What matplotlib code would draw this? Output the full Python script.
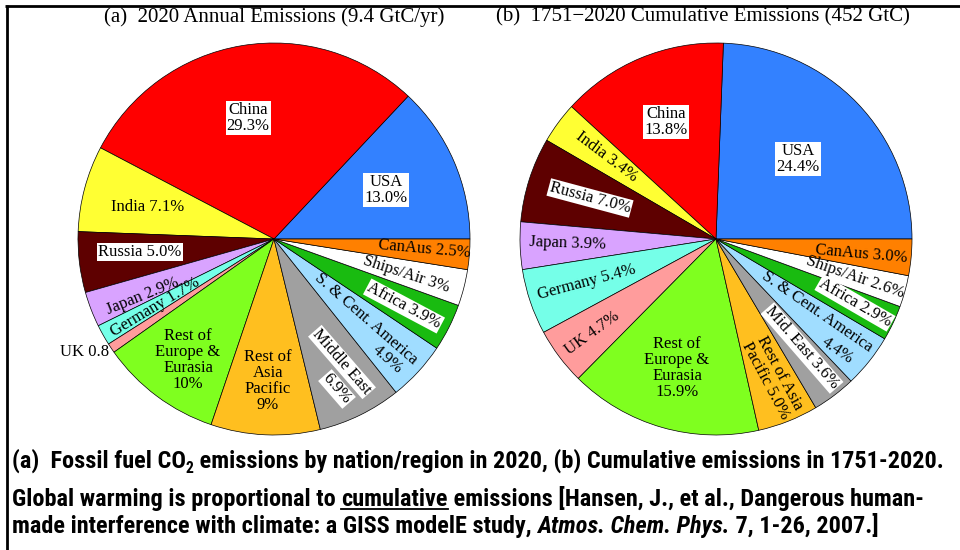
import matplotlib
matplotlib.use("Agg")
import matplotlib.pyplot as plt
from matplotlib import font_manager

# ---------------- data ----------------
regions_a = ["USA", "China", "India", "Russia", "Japan", "Germany", "UK",
             "Rest of Europe & Eurasia", "Rest of Asia Pacific", "Middle East",
             "S. & Cent. America", "Africa", "Ships/Air", "CanAus"]
share_2020 = [13.0, 29.3, 7.1, 5.0, 2.9, 1.7, 0.8, 10.0, 9.0, 6.9, 4.9, 3.9, 3.0, 2.5]

regions_b = ["USA", "China", "India", "Russia", "Japan", "Germany", "UK",
             "Rest of Europe & Eurasia", "Rest of Asia Pacific", "Middle East",
             "S. & Cent. America", "Africa", "Ships/Air", "CanAus"]
share_cum = [24.4, 13.8, 3.4, 7.0, 3.9, 5.4, 4.7, 15.9, 5.0, 3.6, 4.4, 2.9, 2.6, 3.0]

colors = ["#3381FF", "#FF0000", "#FFFF33", "#5E0000", "#D9A3FF", "#75FFE8",
          "#FF9C9C", "#7FFF1F", "#FFBF1F", "#A0A0A0", "#A0DDFF", "#19BB10",
          "#FFFFFF", "#FF8000"]

title_a = "(a)  2020 Annual Emissions (9.4 GtC/yr)"
title_b = "(b)  1751\u22122020 Cumulative Emissions (452 GtC)"

# label texts (as printed in the chart)
labels_a = ["China\n29.3%", "USA\n13.0%", "India 7.1%", "Russia 5.0%", "Japan 2.9%",
            "Germany 1.7%", "UK 0.8", "Rest of\nEurope &\nEurasia\n10%",
            "Rest of\nAsia\nPacific\n9%", "Middle East", "6.9%", "S. & Cent. America",
            "4.9%", "Africa 3.9%", "Ships/Air 3%", "CanAus 2.5%"]
labels_b = ["China\n13.8%", "USA\n24.4%", "India 3.4%", "Russia 7.0%", "Japan 3.9%",
            "Germany 5.4%", "UK 4.7%", "Rest of\nEurope &\nEurasia\n15.9%",
            "Rest of Asia\nPacific 5.0%", "Mid. East 3.6%", "S. & Cent. America",
            "4.4%", "Africa 2.9%", "Ships/Air 2.6%", "CanAus 3.0%"]

# ---------------- layout (image pixel coords: x, y-down, rotation, boxed, ha) ----------------
pos_a = [(248, 118, 0, True, "center"), (386, 190, 0, True, "center"),
         (148, 207, 0, False, "center"), (140, 252, 0, True, "center"),
         (143, 296, 22, False, "center"), (155, 307, 31, False, "center"),
         (109, 352, 0, False, "right"), (188, 360, 0, False, "center"),
         (268, 381, 0, False, "center"), (342, 362, -49, True, "center"),
         (337, 389, -49, True, "center"), (366, 319, -41, False, "center"),
         (387, 359, -41, False, "center"), (404, 306, -28, True, "center"),
         (406, 274, -18, False, "center"), (424, 249, -5, False, "center")]
pos_b = [(666, 122, 0, True, "center"), (798, 159, 0, True, "center"),
         (607, 157, -37, False, "center"), (590, 198, -15, True, "center"),
         (568, 243, -2, False, "center"), (587, 282, 15, False, "center"),
         (592, 333, 36, False, "center"), (677, 368, 0, False, "center"),
         (773, 377, -62, False, "center"), (802, 348, -49, True, "center"),
         (817, 312, -34.5, False, "center"), (837, 351, -34.5, False, "center"),
         (855, 303, -30, True, "center"), (855, 277, -19, False, "center"),
         (861, 254, -5, False, "center")]

W, H = 960, 550
fig = plt.figure(figsize=(9.6, 5.5), dpi=100)
ax = fig.add_axes([0, 0, 1, 1])

def Y(y):
    return H - y

SERIF = "Liberation Serif"
R = 196
ax.pie(share_2020, colors=colors, startangle=0, counterclock=True,
       center=(274, Y(239)), radius=R,
       wedgeprops=dict(edgecolor="black", linewidth=0.5))
ax.pie(share_cum, colors=colors, startangle=0, counterclock=True,
       center=(716, Y(239)), radius=R,
       wedgeprops=dict(edgecolor="black", linewidth=0.5))

ax.set_xlim(0, W)
ax.set_ylim(0, H)
ax.set_aspect("equal")
ax.axis("off")

def put_labels(labels, pos):
    for txt, (x, y, rot, boxed, ha) in zip(labels, pos):
        kw = {}
        if boxed:
            kw["bbox"] = dict(boxstyle="square,pad=0.06", fc="white", ec="none")
        ax.text(x, Y(y), txt, family=SERIF, fontsize=12, rotation=rot,
                rotation_mode="anchor", ha=ha, va="center", ma="center",
                linespacing=1.0, color="black", **kw)

put_labels(labels_a, pos_a)
put_labels(labels_b, pos_b)

ax.text(274, Y(17), title_a, family=SERIF, fontsize=15, ha="center", va="center")
ax.text(703, Y(17), title_b, family=SERIF, fontsize=15, ha="center", va="center")

# border lines (left and top)
ax.plot([7, 7], [Y(5), Y(552)], color="black", lw=2.0, solid_capstyle="butt")
ax.plot([5, 962], [Y(6), Y(6)], color="black", lw=2.0, solid_capstyle="butt")

# ---------------- caption ----------------
avail = {f.name for f in font_manager.fontManager.ttflist}
cap_font = "Liberation Sans"
for cand in ["Liberation Sans Narrow", "Roboto Condensed", "Open Sans Condensed",
             "DejaVu Sans Condensed", "Liberation Sans"]:
    if cand in avail:
        cap_font = cand
        break
fam = [cap_font, "DejaVu Sans"]

line1 = [("(a)  Fossil fuel CO", {}), ("2", {"sub": True}),
         (" emissions by nation/region in 2020, (b) Cumulative emissions in 1751-2020.", {})]
line2 = [("Global warming is proportional to ", {}), ("cumulative", {"underline": True}),
         (" emissions [Hansen, J., et al., Dangerous human-", {})]
line3 = [("made interference with climate: a GISS modelE study, ", {}),
         ("Atmos. Chem. Phys.", {"italic": True}), (" 7, 1-26, 2007.]", {})]

fig.canvas.draw()
renderer = fig.canvas.get_renderer()

def draw_line(x0, ybase, runs, size):
    x = x0
    made = []
    for txt, st in runs:
        sub = st.get("sub", False)
        fs = size * (0.65 if sub else 1.0)
        yy = ybase + (size * 0.22 * 100 / 72 if sub else 0)
        t = ax.text(x, Y(yy), txt, family=fam,
                    fontsize=fs, fontweight="bold",
                    fontstyle="italic" if st.get("italic") else "normal",
                    ha="left", va="baseline")
        made.append(t)
        bb = t.get_window_extent(renderer)
        if st.get("underline"):
            ax.plot([bb.x0, bb.x1], [Y(ybase + 3), Y(ybase + 3)], color="black", lw=1.3)
        x = x + bb.width
    return x, made

# scale caption so first line spans the same width as the reference
base = 14.0
xend, tmp = draw_line(12, 700, line1, base)
for t in tmp:
    t.remove()
size = base * 933.0 / (xend - 12)

draw_line(12, 468, line1, size)
draw_line(12, 506, line2, size)
draw_line(12, 533, line3, size)

fig.savefig("out.png", dpi=100)
